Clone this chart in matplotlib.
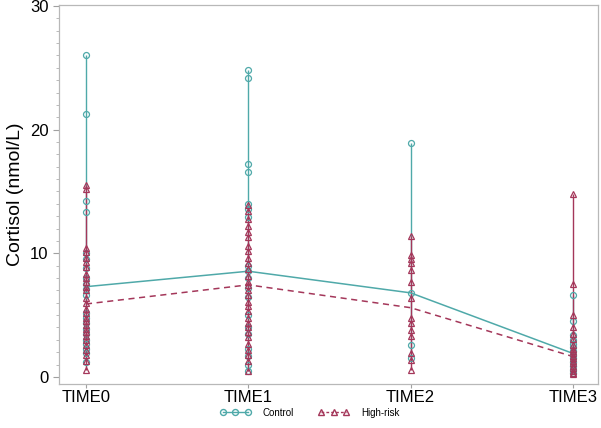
import matplotlib
matplotlib.use("Agg")
import matplotlib.pyplot as plt
from matplotlib.lines import Line2D
from matplotlib.ticker import MultipleLocator

plt.rcParams['font.family'] = ['Liberation Sans', 'DejaVu Sans']

times = ["TIME0", "TIME1", "TIME2", "TIME3"]

control_points = [
    [26.0, 21.3, 14.2, 13.3, 10.0, 9.5, 8.8, 8.0, 7.5, 7.1, 6.6, 5.2, 4.8, 4.4,
     3.9, 3.5, 3.0, 2.7, 2.3, 1.9, 1.2],
    [24.8, 24.2, 17.2, 16.6, 14.0, 13.6, 12.9, 9.0, 8.6, 8.0, 7.2, 6.5, 5.0,
     4.0, 3.5, 2.3, 1.7, 1.0, 0.5],
    [18.9, 6.8, 2.6, 1.5],
    [6.6, 4.5, 3.4, 3.0, 2.7, 2.4, 2.1, 1.8, 1.5, 1.2, 0.9, 0.6, 0.3],
]
highrisk_points = [
    [15.5, 15.2, 10.4, 10.1, 9.6, 9.3, 8.9, 8.3, 8.0, 7.7, 7.3, 7.0, 6.4, 6.0,
     5.5, 5.2, 4.8, 4.5, 4.2, 3.9, 3.6, 3.3, 3.0, 2.6, 2.2, 1.8, 1.3, 0.6],
    [13.9, 13.4, 12.8, 12.2, 11.7, 11.3, 10.6, 10.2, 9.6, 9.2, 8.7, 8.2, 7.7,
     7.4, 7.0, 6.6, 6.1, 5.7, 5.3, 4.8, 4.4, 4.0, 3.6, 3.2, 2.7, 2.2, 1.8, 1.3,
     0.5],
    [11.4, 9.9, 9.5, 9.2, 8.65, 7.7, 6.4, 4.8, 4.35, 3.8, 3.35, 1.97, 1.4, 0.57],
    [14.8, 7.5, 5.0, 4.0, 3.5, 3.1, 2.6, 2.3, 2.1, 1.9, 1.7, 1.5, 1.3, 1.1, 0.9,
     0.7, 0.5, 0.3, 0.2],
]
control_mean = [7.3, 8.55, 6.8, 1.9]
highrisk_mean = [5.9, 7.45, 5.6, 1.65]

teal = "#4FA9A9"
red = "#A4375A"

fig = plt.figure(figsize=(6.01, 4.28), dpi=100)
ax = fig.add_axes([59/601, 1-384/428, (598-59)/601, (384-5)/428])

xs = list(range(len(times)))

for color, pts, mk in [(teal, control_points, 'o'), (red, highrisk_points, '^')]:
    for x, p in zip(xs, pts):
        ax.vlines(x, min(p), max(p), color=color, lw=1.0, zorder=2)
        ax.plot([x]*len(p), p, linestyle='none', marker=mk, markersize=4.3,
                markerfacecolor='none', markeredgecolor=color, markeredgewidth=0.9,
                zorder=3)

ax.plot(xs, control_mean, color=teal, lw=1.1, zorder=2)
ax.plot(xs, highrisk_mean, color=red, lw=1.1, ls=(0, (4, 3)), zorder=2)

ax.set_xlim(-0.166, 3.154)
ax.set_ylim(-0.57, 30.08)
ax.set_xticks(xs)
ax.set_xticklabels(times, fontsize=12)
ax.set_yticks([0, 10, 20, 30])
ax.yaxis.set_minor_locator(MultipleLocator(1))
ax.tick_params(axis='y', labelsize=12, length=4, color='#A0A0A0', direction='out')
ax.tick_params(axis='y', which='minor', length=2.5, color='#B0B0B0')
ax.tick_params(axis='x', length=3, pad=1.5, color='#A0A0A0', direction='out')
ax.set_ylabel("Cortisol (nmol/L)", fontsize=14, labelpad=4)
for s in ax.spines.values():
    s.set_color('#B8B8B8')
    s.set_linewidth(0.9)

handles = [
    Line2D([0], [0], color=teal, lw=1.0, marker='o', markersize=4.3,
           markerfacecolor='none', markeredgecolor=teal),
    Line2D([0], [0], color=red, lw=1.0, ls=(0, (2, 1.5)), marker='^', markersize=4.3,
           markerfacecolor='none', markeredgecolor=red),
]
fig.legend(handles, ["Control", "High-risk"], loc='center',
           bbox_to_anchor=(0.515, 0.036), ncol=2, frameon=False, fontsize=7,
           numpoints=3, handlelength=3.2, columnspacing=2.5, handletextpad=1.2)

fig.savefig("out.png", dpi=100)
